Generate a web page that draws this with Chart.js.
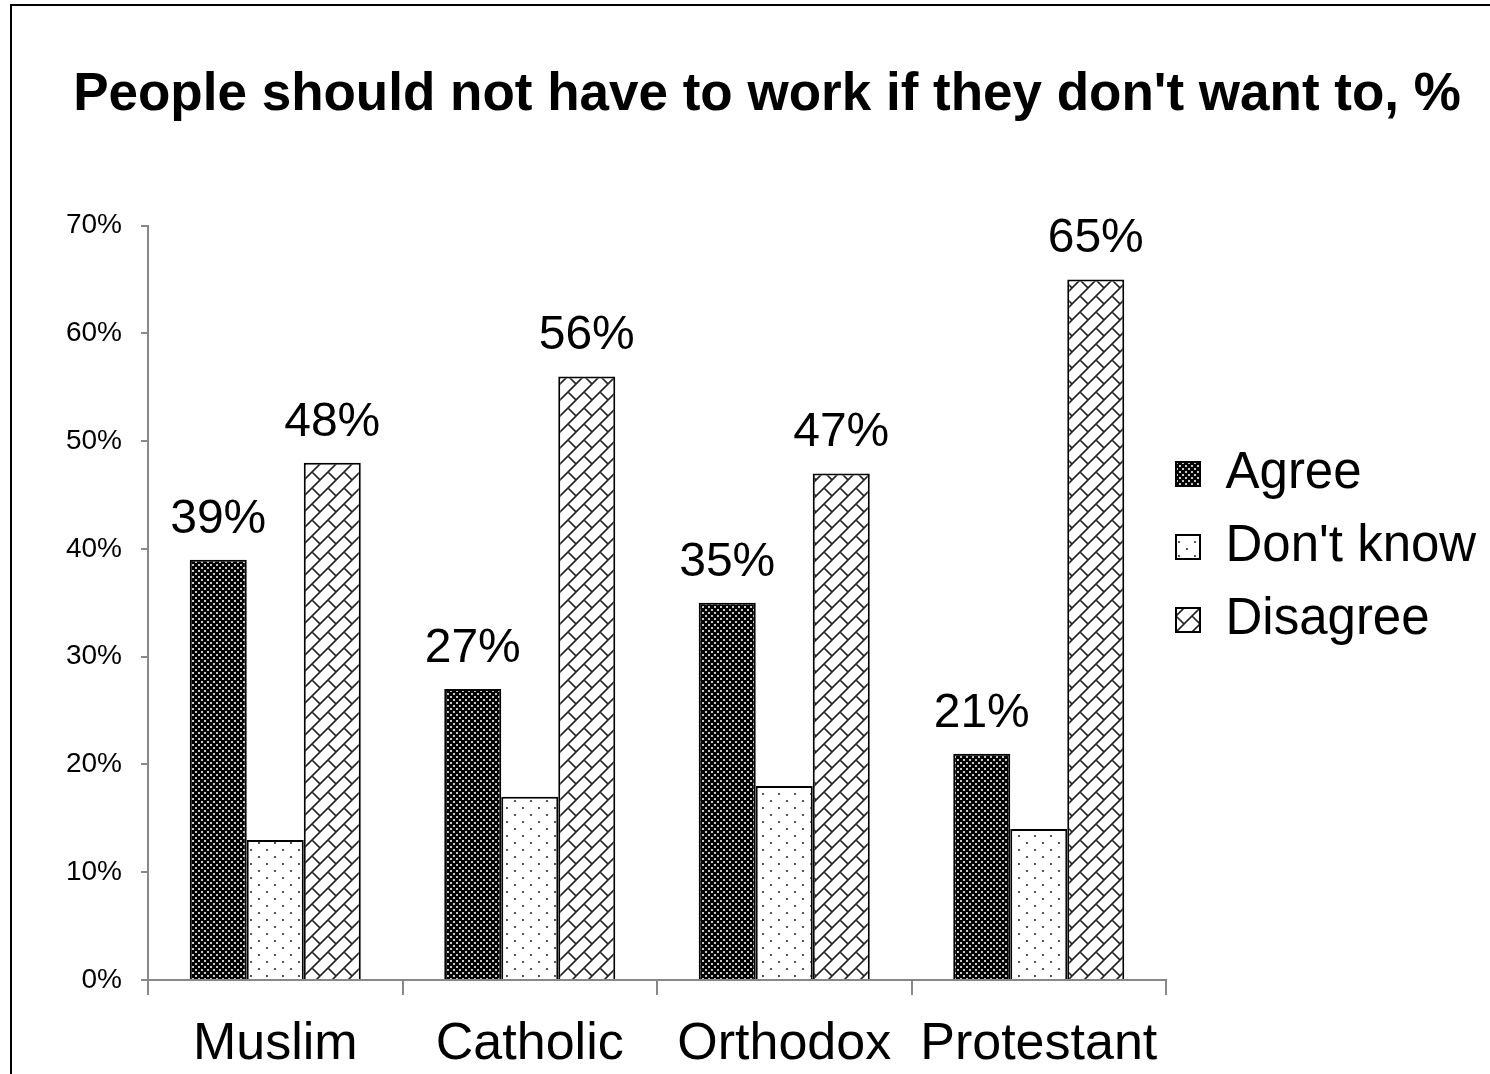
<!DOCTYPE html>
<html>
<head>
<meta charset="utf-8">
<script src="https://cdn.jsdelivr.net/npm/chart.js@4.4.1/dist/chart.umd.min.js"></script>
<style>
  html, body { margin: 0; padding: 0; background: #fff; overflow: hidden; }
  #wrap { position: relative; width: 1490px; height: 1074px; }
  #frame { position: absolute; left: 10px; top: 4px; width: 1600px; height: 1200px; border-left: 2px solid #000; border-top: 2px solid #000; pointer-events: none; }
</style>
</head>
<body>
<div id="wrap">
  <canvas id="chart" width="1490" height="1074"></canvas>
  <div id="frame"></div>
</div>
<script>
// Chart data
const categories = ['Muslim', 'Catholic', 'Orthodox', 'Protestant'];
const agreeValues = [39, 27, 35, 21];
const dontKnowValues = [13, 17, 18, 14];
const disagreeValues = [48, 56, 47, 65];
const yTicks = [0, 10, 20, 30, 40, 50, 60, 70];

const FONT = '"Liberation Sans", Arial, Helvetica, sans-serif';
Chart.defaults.font.family = FONT;
Chart.defaults.color = '#000';

// Fill patterns (small tiles repeated)
const makeTile = (w, h, draw) => {
    const c = document.createElement('canvas');
    c.width = w; c.height = h;
    const g = c.getContext('2d');
    draw(g, w, h);
    return document.getElementById('chart').getContext('2d').createPattern(c, 'repeat');
};

const agreeFill = makeTile(6, 6, (g, w, h) => {
    g.fillStyle = '#000'; g.fillRect(0, 0, w, h);
    g.fillStyle = '#c8c8c8';
    g.fillRect(0, 0, 2, 2);
    g.fillRect(3, 3, 2, 2);
});

const dontKnowFill = makeTile(16, 14, (g, w, h) => {
    g.fillStyle = '#fff'; g.fillRect(0, 0, w, h);
    g.fillStyle = '#555';
    g.fillRect(2, 2, 2, 2);
    g.fillRect(10, 9, 2, 2);
});

// brick-like diagonal weave
const disagreeFill = makeTile(16, 16, (g, w, h) => {
    g.fillStyle = '#fff'; g.fillRect(0, 0, w, h);
    g.strokeStyle = '#222';
    g.lineWidth = 1.6;
    g.beginPath();
    g.moveTo(-1, 17); g.lineTo(17, -1);
    g.moveTo(-1, 1); g.lineTo(1, -1);
    g.moveTo(15, 17); g.lineTo(17, 15);
    g.moveTo(8, 8); g.lineTo(17, 17);
    g.moveTo(-1, -1); g.lineTo(0, 0);
    g.stroke();
});

// Value labels above Agree / Disagree bars
const barLabels = {
    id: 'barLabels',
    afterDatasetsDraw(chart) {
        const ctx = chart.ctx;
        ctx.save();
        ctx.font = '48px ' + FONT;
        ctx.fillStyle = '#000';
        ctx.textAlign = 'center';
        ctx.textBaseline = 'alphabetic';
        [0, 2].forEach(i => {
            chart.getDatasetMeta(i).data.forEach((bar, j) => {
                ctx.fillText(chart.data.datasets[i].data[j] + '%', bar.x, bar.y - 27);
            });
        });
        ctx.restore();
    }
};

// keep the right-hand legend column at a fixed width, nudged a bit left
const legendWidth = {
    id: 'legendWidth',
    afterInit(chart) {
        const lg = chart.legend;
        if (!lg) return;
        const fit = lg.fit.bind(lg);
        lg.fit = function () { fit(); this.width = 324; };
    },
    afterLayout(chart) {
        if (chart.legend) chart.legend.left -= 12;
    }
};

new Chart(document.getElementById('chart'), {
    type: 'bar',
    data: {
        labels: categories,
        datasets: [
            { label: 'Agree', data: agreeValues, backgroundColor: agreeFill },
            { label: "Don't know", data: dontKnowValues, backgroundColor: dontKnowFill },
            { label: 'Disagree', data: disagreeValues, backgroundColor: disagreeFill }
        ]
    },
    options: {
        responsive: false,
        animation: false,
        layout: { padding: { left: 44, top: 20, right: 0, bottom: 0 } },
        datasets: {
            bar: { borderColor: '#000', borderWidth: 2, categoryPercentage: 0.672, barPercentage: 1.0 }
        },
        scales: {
            x: {
                grid: { drawOnChartArea: false, tickLength: 15, color: '#888', lineWidth: 2, offset: true },
                border: { color: '#888', width: 2 },
                ticks: { font: { size: 52 }, padding: 18, color: '#000' },
                afterFit: s => { s.height = 94; }
            },
            y: {
                min: 0,
                max: 70,
                afterBuildTicks: s => { s.ticks = yTicks.map(v => ({ value: v })); },
                grid: { drawOnChartArea: false, tickLength: 7, color: '#888', lineWidth: 2 },
                border: { color: '#888', width: 2 },
                ticks: { font: { size: 28 }, padding: 19, color: '#000', callback: v => v + '%' },
                afterFit: s => { s.width = 104; }
            }
        },
        plugins: {
            title: {
                display: true,
                text: "People should not have to work if they don't want to, %",
                font: { size: 53, weight: 'bold' },
                color: '#000',
                padding: { top: 44, bottom: 98 }
            },
            legend: {
                position: 'right',
                labels: { font: { size: 51 }, boxWidth: 24, boxHeight: 24, padding: 22, color: '#000' }
            },
            tooltip: { enabled: false }
        }
    },
    plugins: [barLabels, legendWidth]
});
</script>
</body>
</html>
